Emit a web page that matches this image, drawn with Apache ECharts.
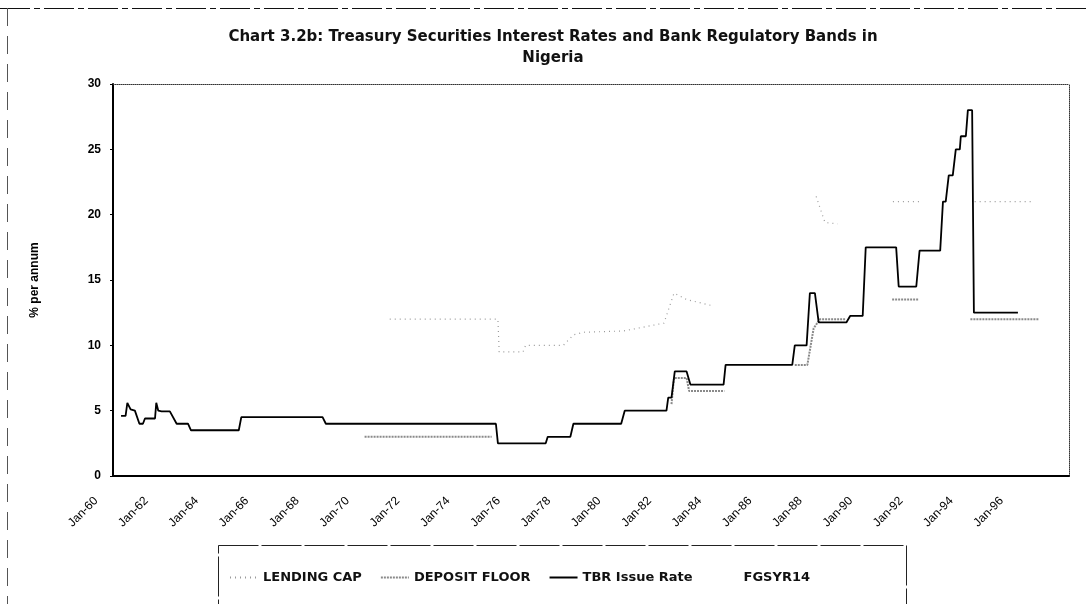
<!DOCTYPE html>
<html>
<head>
<meta charset="utf-8">
<script src="https://cdn.jsdelivr.net/npm/echarts@6/dist/echarts.min.js"></script>
<style>
    html, body { margin: 0; padding: 0; background: #fff; }
    #chart { width: 1090px; height: 604px; }
</style>
</head>
<body>
<div id="chart"></div>
<script>
// values (year as decimal, rate in % p.a.)
// a null rate breaks the line
const tbrYears = [1960.32, 1960.5, 1960.57, 1960.7, 1960.87, 1961.05, 1961.19, 1961.27, 1961.67, 1961.72,
    1961.8, 1961.93, 1962.26, 1962.53, 1962.98, 1963.1, 1965.0, 1965.1, 1968.33, 1968.46,
    1975.22, 1975.3, 1977.2, 1977.28, 1978.18, 1978.3, 1980.2, 1980.34, 1982.0, 1982.07,
    1982.2, 1982.33, 1982.8, 1982.95, 1984.27, 1984.35, 1987.0, 1987.1, 1987.57, 1987.7,
    1987.9, 1988.05, 1989.15, 1989.3, 1989.8, 1989.92, 1991.13, 1991.23, 1991.93, 1992.06,
    1992.88, 1992.99, 1993.1, 1993.22, 1993.38, 1993.5, 1993.66, 1993.7, 1993.9, 1993.98,
    1994.15, 1994.22, 1995.97];
const tbrRates = [4.6, 4.6, 5.6, 5.1, 5.0, 4.0, 4.0, 4.4, 4.4, 5.6,
    5.0, 4.95, 4.95, 4.0, 4.0, 3.5, 3.5, 4.5, 4.5, 4.0,
    4.0, 2.5, 2.5, 3.0, 3.0, 4.0, 4.0, 5.0, 5.0, 6.0,
    6.0, 8.0, 8.0, 7.0, 7.0, 8.5, 8.5, 10.0, 10.0, 14.0,
    14.0, 11.75, 11.75, 12.25, 12.25, 17.5, 17.5, 14.5, 14.5, 17.25,
    17.25, 21.0, 21.0, 23.0, 23.0, 25.0, 25.0, 26.0, 26.0, 28.0,
    28.0, 12.5, 12.5];

const depositYears = [1970.0, 1975.05, 1978.0, 1982.2, 1982.3, 1982.8, 1982.9, 1984.3, 1985.0,
    1987.1, 1987.6, 1987.85, 1988.1, 1989.1, 1990.0, 1990.97, 1992.03, 1993.0, 1994.08, 1996.8];
const depositRates = [3.0, 3.0, null, 5.5, 7.5, 7.5, 6.5, 6.5, null,
    8.5, 8.5, 11.3, 12.0, 12.0, null, 13.5, 13.5, null, 12.0, 12.0];

const lendingYears = [1971.0, 1975.3, 1975.35, 1976.3, 1976.4, 1977.9, 1978.3, 1978.7, 1980.3, 1981.9,
    1982.3, 1982.8, 1983.9, 1985.0, 1987.95, 1988.3, 1988.8, 1990.0, 1991.0, 1992.05,
    1993.0, 1994.25, 1996.55];
const lendingRates = [12.0, 12.0, 9.5, 9.5, 10.0, 10.0, 10.8, 11.0, 11.1, 11.7,
    14.0, 13.5, 13.0, null, 21.4, 19.4, 19.3, null, 21.0, 21.0,
    null, 21.0, 21.0];

const seriesNames = ['LENDING CAP', 'DEPOSIT FLOOR', 'TBR Issue Rate', 'FGSYR14'];
const yTicks = [0, 5, 10, 15, 20, 25, 30];

let to_pairs = function (years, rates) {
    return years.map(function (y, i) {
        return [y, rates[i] === null ? '-' : rates[i]];
    });
};

let chart = echarts.init(document.getElementById('chart'));

let option = {
    backgroundColor: '#fff',
    animation: false,
    title: {
        text: 'Chart 3.2b: Treasury Securities Interest Rates and Bank Regulatory Bands in\nNigeria',
        left: 548,
        textAlign: 'center',
        top: 22,
        textStyle: {
            fontFamily: 'DejaVu Sans',
            fontSize: 15,
            fontWeight: 'bold',
            color: '#111',
            lineHeight: 21
        }
    },
    graphic: [
        // outer chart frame remains visible along top and left
        {type: 'line', shape: {x1: 0, y1: 8.5, x2: 1090, y2: 8.5},
            style: {stroke: '#111', lineWidth: 1, lineDash: [30, 4, 6, 4]}},
        {type: 'line', shape: {x1: 7.5, y1: 8, x2: 7.5, y2: 604},
            style: {stroke: '#555', lineWidth: 1, lineDash: [18, 10]}},
        // legend box
        {type: 'rect', shape: {x: 218.5, y: 545.5, width: 688, height: 90},
            style: {fill: 'none', stroke: '#222', lineWidth: 1, lineDash: [40, 3]}}
    ],
    legend: {
        data: seriesNames,
        left: 224,
        top: 566,
        itemWidth: 28,
        itemHeight: 10,
        itemGap: 18,
        itemStyle: {opacity: 0},
        textStyle: {
            fontFamily: 'DejaVu Sans',
            fontSize: 13,
            fontWeight: 'bold',
            color: '#111'
        }
    },
    grid: {
        left: 113,
        right: 21,
        top: 84,
        bottom: 128
    },
    xAxis: [
        {
            type: 'value',
            min: 1960,
            max: 1998,
            interval: 2,
            axisLine: {lineStyle: {color: '#000', width: 2}},
            axisTick: {show: false},
            splitLine: {show: false},
            axisLabel: {
                rotate: 45,
                margin: 6,
                padding: [0, 24, 0, 0],
                fontFamily: 'Liberation Sans',
                fontSize: 12,
                color: '#000',
                showMaxLabel: false,
                formatter: function (value) {
                    return value <= 1996 ? 'Jan-' + String(value).slice(2) : '';
                }
            }
        },
        {
            type: 'value',
            position: 'top',
            min: 1960,
            max: 1998,
            axisLine: {show: true, onZero: false, lineStyle: {color: '#333', width: 1, type: 'dotted'}},
            axisTick: {show: false},
            axisLabel: {show: false},
            splitLine: {show: false}
        }
    ],
    yAxis: [
        {
            type: 'value',
            min: yTicks[0],
            max: yTicks[yTicks.length - 1],
            interval: 5,
            name: '% per annum',
            nameLocation: 'middle',
            nameRotate: 90,
            nameGap: 72,
            nameTextStyle: {
                fontFamily: 'Liberation Sans',
                fontSize: 12,
                fontWeight: 'bold',
                color: '#000'
            },
            axisLine: {show: true, lineStyle: {color: '#000', width: 2}},
            axisTick: {show: true, length: 3, lineStyle: {color: '#000'}},
            splitLine: {show: false},
            axisLabel: {
                margin: 12,
                fontFamily: 'Liberation Sans',
                fontSize: 12,
                fontWeight: 'bold',
                color: '#000'
            }
        },
        {
            type: 'value',
            position: 'right',
            min: 0,
            max: 30,
            axisLine: {show: true, onZero: false, lineStyle: {color: '#333', width: 1, type: 'dotted'}},
            axisTick: {show: false},
            axisLabel: {show: false},
            splitLine: {show: false}
        }
    ],
    series: [
        {
            name: seriesNames[0],
            type: 'line',
            symbol: 'none',
            data: to_pairs(lendingYears, lendingRates),
            lineStyle: {color: '#9a9a9a', width: 1.2, type: [1, 4]},
            itemStyle: {color: '#9a9a9a'},
            z: 2
        },
        {
            name: seriesNames[1],
            type: 'line',
            symbol: 'none',
            data: to_pairs(depositYears, depositRates),
            lineStyle: {color: '#8a8a8a', width: 2, type: [2, 1]},
            itemStyle: {color: '#8a8a8a'},
            z: 3
        },
        {
            name: seriesNames[2],
            type: 'line',
            symbol: 'none',
            data: to_pairs(tbrYears, tbrRates),
            lineStyle: {color: '#000', width: 1.8},
            itemStyle: {color: '#000'},
            z: 4
        },
        {
            name: seriesNames[3],
            type: 'line',
            symbol: 'none',
            data: [],
            lineStyle: {color: '#fff', width: 0, opacity: 0},
            itemStyle: {color: '#fff', opacity: 0}
        }
    ]
};

chart.setOption(option);
</script>
</body>
</html>
